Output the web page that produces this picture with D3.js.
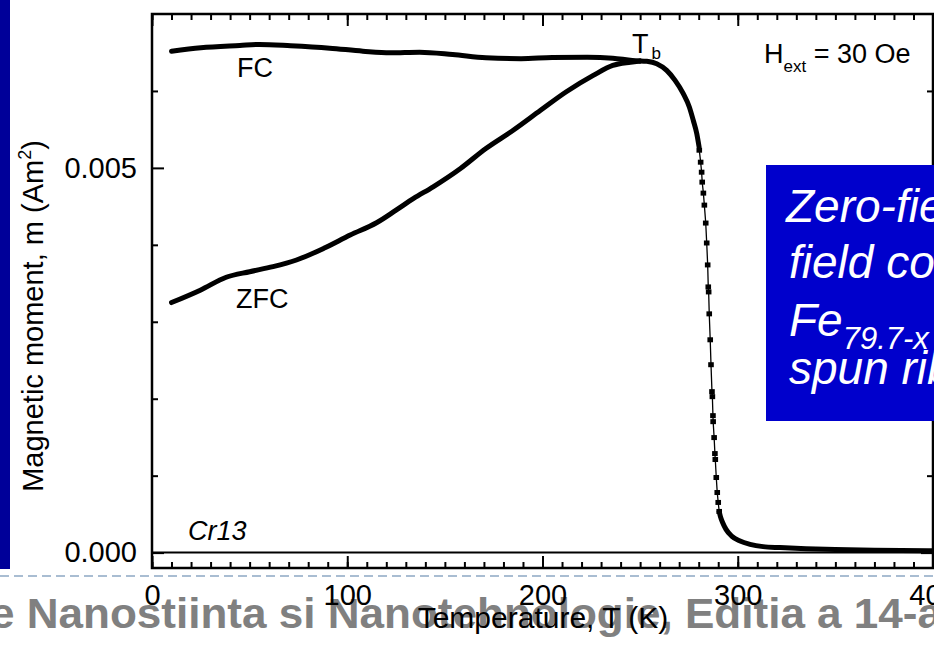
<!DOCTYPE html>
<html>
<head>
<meta charset="utf-8">
<script src="https://cdn.jsdelivr.net/npm/d3@7"></script>
<style>
  html, body { margin: 0; padding: 0; background: #ffffff; }
  svg { display: block; font-family: "Liberation Sans", Arial, sans-serif; }
</style>
</head>
<body>
<svg id="chart" width="934" height="660"></svg>
<script>
// Magnetisation curves, m in units of 1e-3 A·m², T in kelvin.
// Field-cooled branch (below the blocking temperature)
const fcT = [10, 25, 45, 55, 71, 91, 108, 122, 137, 154, 171, 189, 205, 223, 236, 246, 250];
const fcM = [6.517, 6.561, 6.591, 6.604, 6.587, 6.556, 6.517, 6.496, 6.504, 6.474, 6.432, 6.419, 6.435, 6.439, 6.426, 6.397, 6.390];

// Zero-field-cooled branch (below the blocking temperature)
const zfcT = [10, 25, 38, 50, 62, 74, 88, 101.5, 115, 125, 134, 144, 158, 171, 185, 199, 212, 226, 236, 245, 250];
const zfcM = [3.250, 3.414, 3.579, 3.651, 3.716, 3.803, 3.955, 4.127, 4.287, 4.451, 4.603, 4.754, 4.992, 5.252, 5.489, 5.748, 5.986, 6.202, 6.332, 6.374, 6.390];

// Common branch above T_b: rounded top, steep drop near T_C, paramagnetic tail
const highT = [250, 253.4, 258.5, 263.6, 267.9, 272.1, 275.2, 277.2, 279.0, 280.2];
const highM = [6.390, 6.385, 6.354, 6.267, 6.137, 5.965, 5.791, 5.619, 5.446, 5.272];

const stepT = [280.3, 281.0, 281.5, 281.8, 282.4, 282.9, 283.6, 284.1, 284.6, 284.9, 285.1, 285.4, 285.9, 286.3, 286.8, 287.0, 287.3, 287.4, 287.9, 288.3, 288.5, 289.0, 289.5, 290.0, 290.5];
const stepM = [5.230, 5.074, 4.944, 4.815, 4.672, 4.516, 4.283, 4.024, 3.739, 3.453, 3.388, 3.103, 2.766, 2.442, 2.092, 2.027, 1.780, 1.702, 1.495, 1.287, 1.210, 0.976, 0.781, 0.652, 0.535];

const tailT = [290.5, 291.1, 292.3, 294.0, 296.9, 301.2, 306.3, 313.0, 321.6, 335, 350, 370, 400];
const tailM = [0.535, 0.470, 0.389, 0.302, 0.215, 0.150, 0.108, 0.078, 0.065, 0.050, 0.040, 0.030, 0.025];

// Axis ticks
const xMajor = [0, 100, 200, 300, 400];
const xMinor = d3.range(0, 401, 10);
const yMajor = [0.000, 0.005];
const yMinor = [0.001, 0.002, 0.003, 0.004, 0.006];

const svg = d3.select("#chart");
const W = 934, H = 660;
const frame = { left: 152, right: 933, top: 14, bottom: 568 };

const x = d3.scaleLinear().domain([0, 400]).range([frame.left, frame.right]);
const y = d3.scaleLinear().domain([-0.0002, 0.007]).range([frame.bottom, frame.top]);

const zip = (ts, ms) => ts.map((t, i) => ({ t, m: ms[i] * 1e-3 }));
const fc = zip(fcT, fcM), zfc = zip(zfcT, zfcM);
const high = zip(highT, highM), step = zip(stepT, stepM), tail = zip(tailT, tailM);

// slide footer, behind the chart
svg.append("text")
  .attr("x", -10).attr("y", 628)
  .attr("font-size", 43).attr("font-weight", "bold")
  .attr("fill", "#808080")
  .attr("textLength", 952).attr("lengthAdjust", "spacingAndGlyphs")
  .text("e Nanostiinta si Nanotehnologie, Editia a 14-a");

// slide decorations
svg.append("rect").attr("x", 0).attr("y", 0).attr("width", 10).attr("height", 569).attr("fill", "#000099");
svg.append("line")
  .attr("x1", 0).attr("x2", W).attr("y1", 576).attr("y2", 576)
  .attr("stroke", "#a9bdd2").attr("stroke-width", 2).attr("stroke-dasharray", "9,5");

// zero line
svg.append("line")
  .attr("x1", frame.left).attr("x2", frame.right)
  .attr("y1", y(0)).attr("y2", y(0))
  .attr("stroke", "#000").attr("stroke-width", 2);

// curves
const line = d3.line().x(d => x(d.t)).y(d => y(d.m)).curve(d3.curveMonotoneX);
const lineY = d3.line().x(d => x(d.t)).y(d => y(d.m));
const curves = svg.append("g");
[fc, zfc, high, tail].forEach(s => {
  curves.append("path").attr("d", line(s))
    .attr("fill", "none").attr("stroke", "#000").attr("stroke-width", 5)
    .attr("stroke-linejoin", "round").attr("stroke-linecap", "round");
});
curves.append("path").attr("d", lineY(high.concat(step, tail)))
  .attr("fill", "none").attr("stroke", "#000").attr("stroke-width", 1.3);
curves.selectAll("rect.pt").data(step).join("rect")
  .attr("class", "pt")
  .attr("x", d => x(d.t) - 2.8).attr("y", d => y(d.m) - 2.5)
  .attr("width", 5.6).attr("height", 5).attr("fill", "#000");

// axes with inward ticks
const axW = 2.5;
function styleAxis(g) {
  g.select(".domain").remove();
  g.selectAll("line").attr("stroke", "#000").attr("stroke-width", 2);
  g.selectAll("text").attr("font-size", 29).attr("fill", "#000")
    .attr("font-family", "'Liberation Sans', Arial, sans-serif");
}
const gx = svg.append("g").attr("transform", `translate(0,${frame.bottom})`);
gx.call(d3.axisBottom(x).tickValues(xMinor).tickSize(-6).tickFormat("")).call(styleAxis);
gx.append("g").call(d3.axisBottom(x).tickValues(xMajor).tickSize(-12).tickPadding(16).tickFormat(d3.format("d"))).call(styleAxis);

const gt = svg.append("g").attr("transform", `translate(0,${frame.top})`);
gt.call(d3.axisTop(x).tickValues(xMinor).tickSize(-6).tickFormat("")).call(styleAxis);
gt.append("g").call(d3.axisTop(x).tickValues(xMajor).tickSize(-12).tickFormat("")).call(styleAxis);

const gy = svg.append("g").attr("transform", `translate(${frame.left},0)`);
gy.call(d3.axisLeft(y).tickValues(yMinor).tickSize(-6).tickFormat("")).call(styleAxis);
gy.append("g").call(d3.axisLeft(y).tickValues(yMajor).tickSize(-12).tickPadding(15).tickFormat(d3.format(".3f"))).call(styleAxis);

const gr = svg.append("g").attr("transform", `translate(${frame.right},0)`);
gr.call(d3.axisRight(y).tickValues(yMinor).tickSize(-6).tickFormat("")).call(styleAxis);
gr.append("g").call(d3.axisRight(y).tickValues(yMajor).tickSize(-12).tickFormat("")).call(styleAxis);

// frame
svg.append("rect")
  .attr("x", frame.left).attr("y", frame.top)
  .attr("width", frame.right - frame.left).attr("height", frame.bottom - frame.top)
  .attr("fill", "none").attr("stroke", "#000").attr("stroke-width", axW);

// axis titles
svg.append("text")
  .attr("x", 543).attr("y", 628).attr("text-anchor", "middle")
  .attr("font-size", 30).text("Temperature, T (K)");
const yt = svg.append("text")
  .attr("transform", "translate(43,316) rotate(-90)")
  .attr("text-anchor", "middle").attr("font-size", 29);
yt.append("tspan").text("Magnetic moment, m (Am");
yt.append("tspan").attr("font-size", 18).attr("dy", -12).text("2");
yt.append("tspan").attr("dy", 12).text(")");

// curve labels and annotations
const ann = svg.append("g").attr("font-size", 27).attr("fill", "#000");
ann.append("text").attr("x", 237).attr("y", 77).text("FC");
ann.append("text").attr("x", 236).attr("y", 308).text("ZFC");
ann.append("text").attr("x", 188).attr("y", 540).attr("font-style", "italic").text("Cr13");
const tb = ann.append("text").attr("x", 632).attr("y", 53);
tb.append("tspan").text("T");
tb.append("tspan").attr("font-size", 17).attr("dx", 3).attr("dy", 6).text("b");
const hx = ann.append("text").attr("x", 764).attr("y", 63);
hx.append("tspan").text("H");
hx.append("tspan").attr("font-size", 17).attr("dy", 9).text("ext");
hx.append("tspan").attr("dy", -9).text(" = 30 Oe");

// caption box
svg.append("rect").attr("x", 766).attr("y", 165).attr("width", 180).attr("height", 256).attr("fill", "#0000cc");
const cap = svg.append("g").attr("fill", "#fff").attr("font-style", "italic").attr("font-size", 46);
cap.append("text").attr("x", 786).attr("y", 222).text("Zero-field cooled and");
cap.append("text").attr("x", 789).attr("y", 278).text("field cooled curves of");
const fe = cap.append("text").attr("x", 789).attr("y", 336);
fe.append("tspan").text("Fe");
fe.append("tspan").attr("font-size", 31).attr("dy", 13).text("79.7-x");
cap.append("text").attr("x", 789).attr("y", 384).text("spun ribbons");
</script>
</body>
</html>
